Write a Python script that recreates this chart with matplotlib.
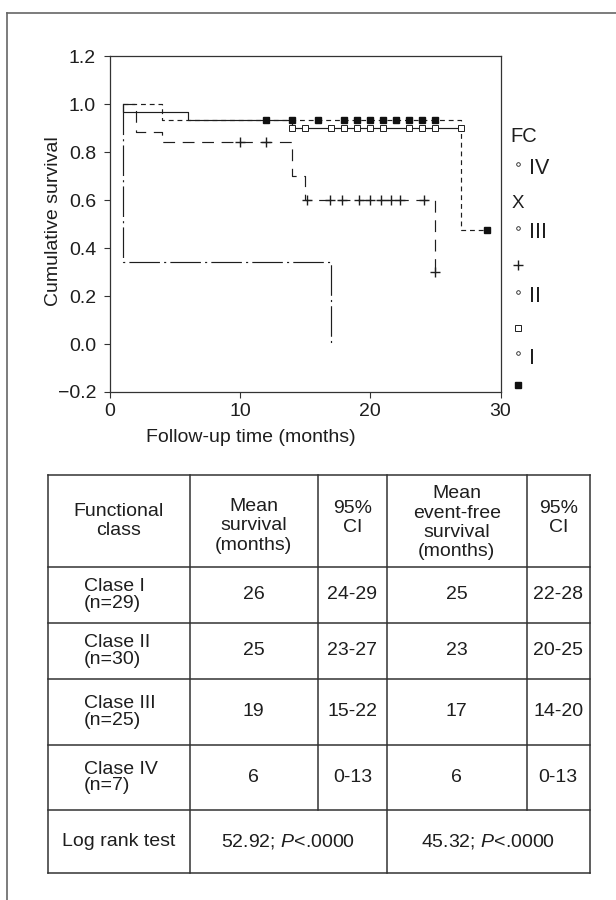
import matplotlib
matplotlib.use("Agg")
import matplotlib.pyplot as plt
from matplotlib.ticker import FuncFormatter

plt.rcParams["font.family"] = ["Liberation Sans", "DejaVu Sans"]
plt.rcParams["mathtext.fontset"] = "custom"
plt.rcParams["mathtext.rm"] = "Liberation Sans"
plt.rcParams["mathtext.it"] = "Liberation Sans:italic"
plt.rcParams["lines.scale_dashes"] = False

INK = "#1e1e1e"
FS = 14

# Kaplan-Meier curves, all start at t=1 with survival 1.0
c1_event_t = [4, 27]
c1_surv = [0.935, 0.475]
c1_end = 29
c1_cens = [12, 14, 16, 18, 19, 20, 21, 22, 23, 24, 25, 29]

c2_event_t = [1, 6, 14]
c2_surv = [0.967, 0.935, 0.90]
c2_end = 27
c2_cens = [14, 15, 17, 18, 19, 20, 21, 23, 24, 25, 27]

c3_event_t = [2, 4, 14, 15, 25]
c3_surv = [0.885, 0.845, 0.70, 0.60, 0.30]
c3_end = 25
c3_cens = [10, 12, 15.1, 16.9, 17.8, 19.1, 20.0, 20.8, 21.6, 22.3, 24.1, 25]

c4_event_t = [1, 17]
c4_surv = [0.343, 0.0]
c4_end = 17
c4_cens = []

# table
header = ["Functional\nclass", "Mean\nsurvival\n(months)", "95%\nCI",
          "Mean\nevent-free\nsurvival\n(months)", "95%\nCI"]
row_labels = ["Clase I\n(n=29)", "Clase II\n(n=30)", "Clase III\n(n=25)", "Clase IV\n(n=7)"]
mean_surv = ["26", "25", "19", "6"]
ci_surv = ["24-29", "23-27", "15-22", "0-13"]
mean_efs = ["25", "23", "17", "6"]
ci_efs = ["22-28", "20-25", "14-20", "0-13"]
logrank = ["Log rank test", "52.92; $\\mathit{P}$<.0000", "45.32; $\\mathit{P}$<.0000"]


def km_xy(event_t, surv, end):
    return [1] + event_t + [end], [1.0] + surv + [surv[-1]]


def surv_at(t, event_t, surv):
    v = 1.0
    for et, s in zip(event_t, surv):
        if t >= et:
            v = s
    return v


W, H = 616, 900
fig = plt.figure(figsize=(W / 100, H / 100), dpi=100)

ax = fig.add_axes([110 / W, 1 - 392 / H, 390.5 / W, 335.5 / H])
ax.set_xlim(0, 30)
ax.set_ylim(-0.2, 1.2)
ax.set_xticks([0, 10, 20, 30])
ax.set_yticks([-0.2, 0.0, 0.2, 0.4, 0.6, 0.8, 1.0, 1.2])
ax.yaxis.set_major_formatter(FuncFormatter(
    lambda v, p: ("%.1f" % (0.0 if abs(v) < 1e-9 else v)).replace("-", "\u2212")))
ax.tick_params(direction="out", length=4, width=0.8, colors="#333333",
               labelcolor=INK, labelsize=FS)
ax.tick_params(axis="y", pad=6)
ax.tick_params(axis="x", pad=4)
for s in ax.spines.values():
    s.set_color("#333333")
    s.set_linewidth(0.9)

curves = [
    (c4_event_t, c4_surv, c4_end, c4_cens, (0, (22, 3, 1.5, 3)), None),
    (c3_event_t, c3_surv, c3_end, c3_cens, (0, (8.5, 5.5)), "+"),
    (c2_event_t, c2_surv, c2_end, c2_cens, "-", "s_open"),
    (c1_event_t, c1_surv, c1_end, c1_cens, (0, (3.5, 2.8)), "s"),
]
for et, sv, end, cens, ls, mk in curves:
    x, y = km_xy(et, sv, end)
    ax.plot(x, y, drawstyle="steps-post", color=INK, lw=0.85, linestyle=ls, zorder=2)
    if not cens:
        continue
    cy = [surv_at(t, et, sv) for t in cens]
    if mk == "+":
        ax.plot(cens, cy, "+", color=INK, ms=7, mew=1.0, zorder=3)
    elif mk == "s_open":
        ax.plot(cens, cy, "s", mfc="white", mec=INK, ms=3.8, mew=0.7, zorder=3)
    else:
        ax.plot(cens, cy, "s", color="#111111", ms=3.8, zorder=4)

# overlay in pixel coordinates for frame, labels, legend and table
ov = fig.add_axes([0, 0, 1, 1])
ov.set_xlim(0, W)
ov.set_ylim(H, 0)
ov.axis("off")
ov.patch.set_alpha(0)

ov.plot([7, 7], [13, H], color="#666666", lw=1.2)
ov.plot([7, W], [13, 13], color="#666666", lw=1.2)

ov.text(54, 221, "Cumulative survival", rotation=90, ha="center", va="center",
        fontsize=FS, color=INK)
ov.text(251, 437, "Follow-up time (months)", ha="center", va="center",
        fontsize=FS, color=INK)

# legend
ov.text(510, 136, "FC", ha="left", va="center", fontsize=FS + 0.5, color=INK)
leg_names = ["IV", "III", "II", "I"]
leg_y = [169, 233, 297, 358]
for name, y0 in zip(leg_names, leg_y):
    ov.plot([518], [y0 - 5], "o", mfc="white", mec=INK, ms=2.6, mew=0.6)
    ov.text(529, y0, name, ha="left", va="center", fontsize=FS + 1.5, color=INK)
ov.text(518, 203, "X", ha="center", va="center", fontsize=FS - 0.5, color=INK)
ov.plot([518], [265], "+", color=INK, ms=7, mew=1.0)
ov.plot([518], [328], "s", mfc="white", mec=INK, ms=3.8, mew=0.7)
ov.plot([518], [385], "s", color="#111111", ms=3.8)

# table
col_x = [47.5, 189.5, 318, 387, 526.5, 590]
row_y = [474.5, 567, 622.5, 679, 745, 810, 873]
head_dy = [0, 5, -3, 2, -3]
tcol = "#333333"
tlw = 1.1
for y0 in row_y:
    ov.plot([col_x[0], col_x[-1]], [y0, y0], color=tcol, lw=tlw)
for i, x0 in enumerate(col_x):
    bottom = row_y[-1] if i in (0, 1, 3, 5) else row_y[-2]
    ov.plot([x0, x0], [row_y[0], bottom], color=tcol, lw=tlw)


def cell_center(c0, c1, r):
    return (col_x[c0] + col_x[c1]) / 2, (row_y[r] + row_y[r + 1]) / 2


for j, h in enumerate(header):
    cx, cy = cell_center(j, j + 1, 0)
    ov.text(cx, cy + head_dy[j], h, ha="center", va="center", ma="center",
            fontsize=FS, color=INK, linespacing=1.18)

for i in range(4):
    cx, cy = cell_center(0, 1, i + 1)
    ov.text(84, cy, row_labels[i], ha="left", va="center", ma="left",
            fontsize=FS, color=INK, linespacing=1.0)
    for j, vals in enumerate([mean_surv, ci_surv, mean_efs, ci_efs]):
        cx, cy = cell_center(j + 1, j + 2, i + 1)
        ov.text(cx, cy, vals[i], ha="center", va="center", fontsize=FS, color=INK)

for (c0, c1), txt in zip([(0, 1), (1, 3), (3, 5)], logrank):
    cx, cy = cell_center(c0, c1, 5)
    ov.text(cx, cy, txt, ha="center", va="center", fontsize=FS, color=INK)

fig.savefig("out.png", dpi=100, facecolor="white")
